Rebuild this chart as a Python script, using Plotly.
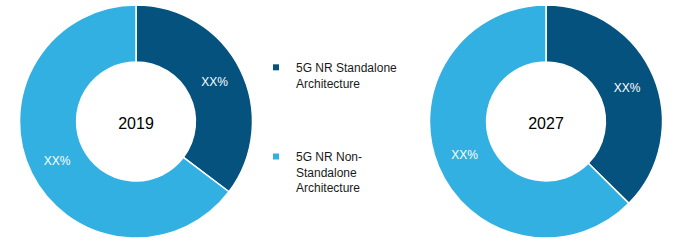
import plotly.graph_objects as go

# Data
segments = ["5G NR Standalone<br>Architecture", "5G NR Non-<br>Standalone<br>Architecture"]
years = ["2019", "2027"]
shares_2019 = [35.3, 64.7]
shares_2027 = [37.4, 62.6]
slice_text = ["XX%", "XX%"]
colors = ["#06527F", "#33B0E2"]

fig = go.Figure()

domains = [[19.5 / 680, 252.5 / 680], [429.5 / 680, 662.5 / 680]]
for year, vals, dx in zip(years, [shares_2019, shares_2027], domains):
    fig.add_trace(go.Pie(
        labels=segments,
        values=vals,
        text=slice_text,
        textinfo="text",
        textposition="inside",
        insidetextorientation="horizontal",
        textfont=dict(family="Liberation Sans, Arial", size=12, color="white"),
        hole=0.51,
        sort=False,
        direction="clockwise",
        rotation=0,
        marker=dict(colors=colors, line=dict(color="white", width=1.5)),
        domain=dict(x=dx, y=[6 / 244, 239 / 244]),
        title=dict(text=year, position="middle center",
                   font=dict(family="Liberation Sans, Arial", size=16, color="black")),
        showlegend=False,
        hoverinfo="label+percent",
    ))

# Legend entries
for i, (seg, col) in enumerate(zip(segments, colors)):
    fig.add_trace(go.Scatter(
        x=[None], y=[None], mode="markers",
        marker=dict(symbol="square", size=6, color=col),
        name=seg, legendgroup=f"g{i}", showlegend=True,
    ))

fig.update_layout(
    width=680, height=244,
    margin=dict(l=0, r=0, t=0, b=0),
    paper_bgcolor="white", plot_bgcolor="white",
    xaxis=dict(visible=False), yaxis=dict(visible=False),
    legend=dict(
        x=256 / 680, xanchor="left",
        y=1 - 53 / 244, yanchor="top",
        valign="top",
        tracegroupgap=55,
        font=dict(family="Liberation Sans, Arial", size=12, color="#1a1a1a"),
        bgcolor="rgba(0,0,0,0)",
    ),
)

fig.write_html("out.html")
